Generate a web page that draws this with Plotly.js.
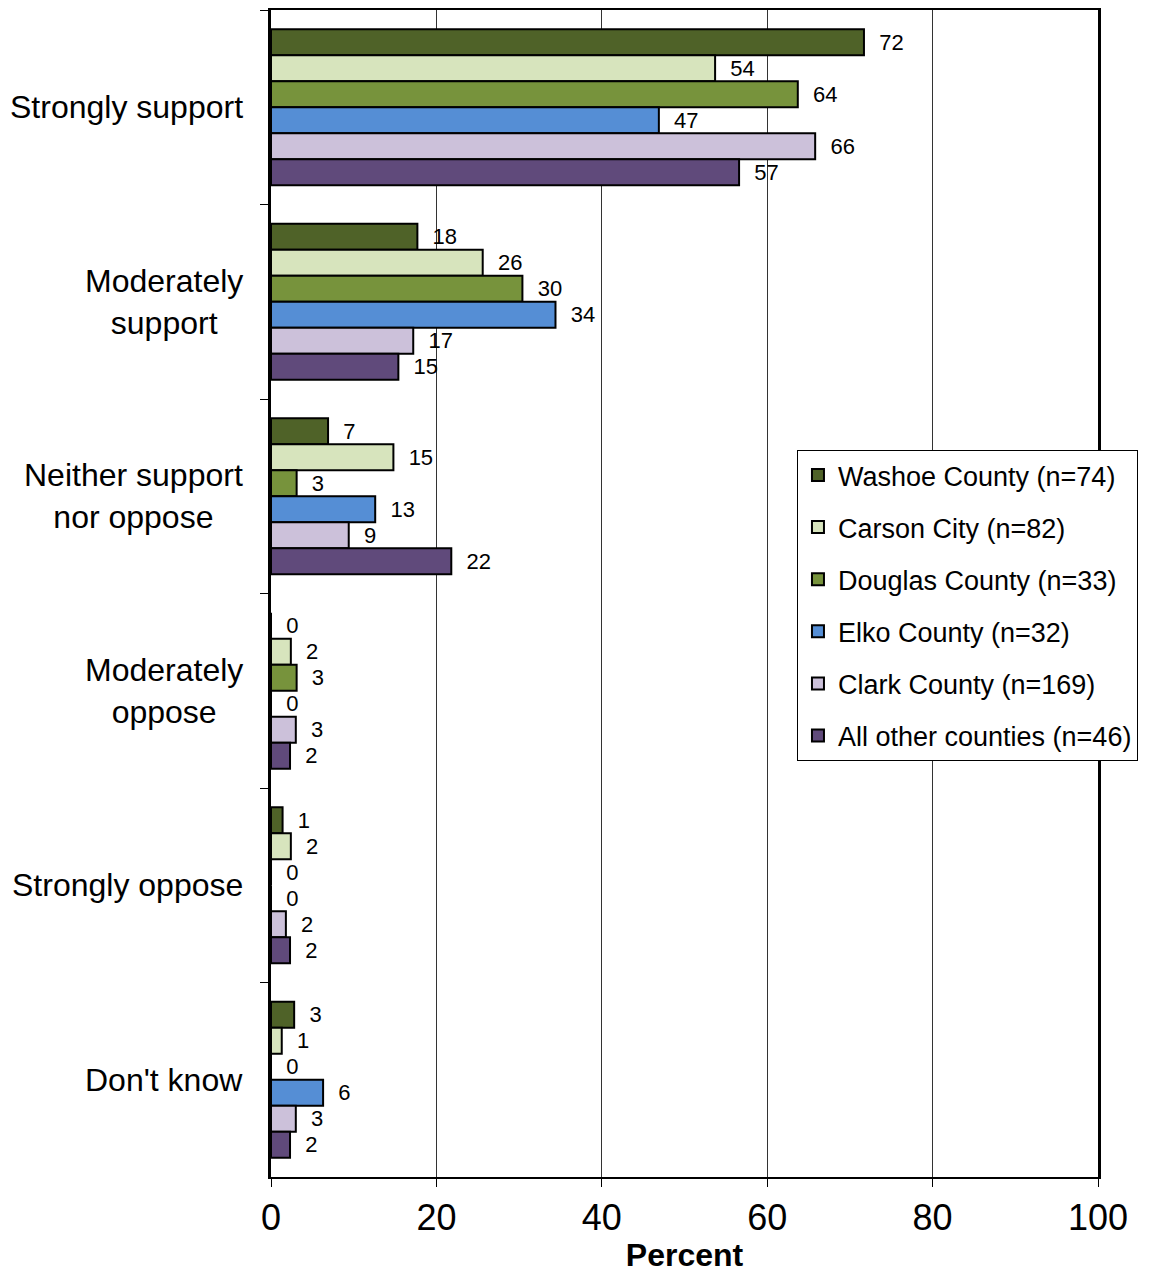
<!DOCTYPE html>
<html>
<head>
<meta charset="utf-8">
<script src="https://cdn.plot.ly/plotly-3.0.1.min.js"></script>
<style>html,body{margin:0;padding:0;background:#fff;}#chart{width:1156px;height:1273px;}</style>
</head>
<body>
<div id="chart"></div>
<script>
const categories = ["Strongly support", "Moderately<br>support", "Neither support<br>nor oppose", "Moderately<br>oppose", "Strongly oppose", "Don't know"];
const seriesNames = ["Washoe County (n=74)", "Carson City (n=82)", "Douglas County (n=33)", "Elko County (n=32)", "Clark County (n=169)", "All other counties (n=46)"];
const washoe = [71.7, 17.7, 6.9, 0, 1.4, 2.8];
const carson = [53.7, 25.6, 14.8, 2.4, 2.4, 1.3];
const douglas = [63.7, 30.4, 3.1, 3.1, 0, 0];
const elko = [46.9, 34.4, 12.6, 0, 0, 6.3];
const clark = [65.8, 17.2, 9.4, 3.0, 1.8, 3.0];
const other = [56.6, 15.4, 21.8, 2.3, 2.3, 2.3];
const colors = ["#4F6228", "#D7E4BD", "#77933C", "#558ED5", "#CCC1DA", "#604A7B"];
const xTicks = [0, 20, 40, 60, 80, 100];

const seriesValues = [washoe, carson, douglas, elko, clark, other];
const data = seriesValues.map((vals, i) => ({
  type: "bar",
  orientation: "h",
  name: seriesNames[i],
  legendgroup: "g" + i,
  x: vals,
  y: categories,
  marker: {color: colors[i], line: {color: "#000", width: 2}},
  texttemplate: "\u00a0\u00a0%{x:.0f}",
  textposition: "outside",
  cliponaxis: false,
  textfont: {family: "Liberation Sans, Arial, sans-serif", size: 22, color: "#000"},
  hoverinfo: "x+name"
}));

const annotations = categories.map(c => ({
  xref: "paper", yref: "y", x: 0, y: c, xanchor: "right", xshift: -26,
  text: c, showarrow: false, align: "center",
  font: {family: "Liberation Sans, Arial, sans-serif", size: 32, color: "#000"}
}));

const layout = {
  width: 1156, height: 1273,
  margin: {l: 271, r: 58, t: 10, b: 96},
  paper_bgcolor: "#fff", plot_bgcolor: "#fff",
  barmode: "group", bargap: 0.198, bargroupgap: 0,
  showlegend: true,
  legend: {
    x: 0.636, y: 0.623, xanchor: "left", yanchor: "top",
    bgcolor: "#fff", bordercolor: "#000", borderwidth: 1,
    tracegroupgap: 14, traceorder: "grouped",
    entrywidth: 330, entrywidthmode: "pixels",
    font: {family: "Liberation Sans, Arial, sans-serif", size: 27, color: "#000"}
  },
  xaxis: {
    range: [0, 100], tickvals: xTicks, ticktext: xTicks.map(String),
    showgrid: true, gridcolor: "#333", gridwidth: 1,
    showline: true, linecolor: "#000", linewidth: 2, mirror: true,
    ticks: "outside", ticklen: 8, tickcolor: "#000",
    zeroline: false,
    tickfont: {family: "Liberation Sans Narrow, Arial Narrow, sans-serif", size: 36, color: "#000"},
    title: {text: "<b>Percent</b>", standoff: 6, font: {family: "Liberation Sans Narrow, Arial Narrow, sans-serif", size: 32, color: "#000"}}
  },
  yaxis: {
    type: "category", categoryorder: "array", categoryarray: categories,
    autorange: "reversed",
    showticklabels: false,
    tickson: "boundaries", ticks: "outside", ticklen: 8, tickcolor: "#000",
    showline: true, linecolor: "#000", linewidth: 3, mirror: true,
    showgrid: false, zeroline: false
  },
  annotations: annotations
};

Plotly.newPlot("chart", data, layout, {displayModeBar: false, staticPlot: true});
</script>
</body>
</html>
